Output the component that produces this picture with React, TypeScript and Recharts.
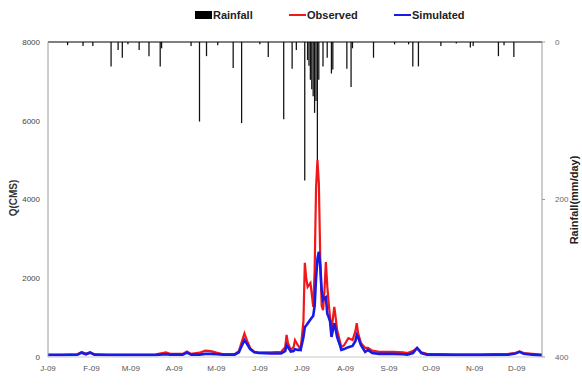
import React from "react";
import {
  ComposedChart,
  Line,
  Bar,
  XAxis,
  YAxis,
  ReferenceLine,
} from "recharts";

// x values are day positions along the year axis
const flowDays = [
  0, 10, 21, 24, 27, 30, 33, 43, 58, 77, 84, 87, 96, 99, 102, 108, 112, 116, 120, 125,
  133, 136, 138, 140, 142, 144, 147, 150, 159, 166, 169, 170, 171, 173, 175, 176, 178, 180,
  182, 183, 184, 185, 187, 189, 190, 191, 192, 193, 194, 195, 196, 197, 198, 199, 200, 201,
  202, 204, 205, 206, 208, 209, 211, 214, 217, 219, 220, 221, 223, 226, 228, 231, 236, 246,
  253, 256, 260, 263, 266, 270, 289, 308, 328, 333, 336, 339, 345, 352,
];
const observed = [
  60, 60, 70, 130, 80, 120, 70, 60, 60, 70, 120, 80, 80, 140, 80, 110, 160, 150, 110, 70,
  70, 150, 380, 600, 400, 230, 130, 120, 120, 130, 250, 560, 350, 180, 250, 430, 300, 200,
  900, 2390, 2000, 1780, 1880, 1270, 2200, 4300, 5000, 4400, 2500, 1300, 1190, 1700, 2410, 1800, 1370, 1000,
  690, 1270, 1000, 690, 400, 250, 300, 480, 430, 650, 860, 600, 355, 230, 230, 160, 130, 130,
  120, 100, 150, 230, 120, 80, 70, 70, 80, 100, 140, 100, 80, 60,
];
const simulated = [
  50, 50, 60, 110, 70, 110, 60, 50, 50, 55, 70, 60, 60, 110, 60, 60, 80, 80, 70, 60,
  60, 120, 280, 430, 320, 200, 120, 100, 90, 90, 150, 300, 250, 140, 150, 200, 180, 180,
  500, 760, 800, 850, 950, 1050, 1300, 2000, 2500, 2670, 2300, 1700, 1450, 1500, 1520, 1100, 1015, 900,
  510, 860, 700, 510, 300, 180, 200, 250, 280, 400, 560, 500, 300, 130, 180, 100, 80, 80,
  70, 60, 100, 230, 100, 60, 50, 50, 60, 90, 130, 80, 60, 40,
];

const rainDays = [
  14, 25, 32, 45, 50, 53, 57, 65, 72, 80, 81, 102, 108, 113, 121, 132, 138, 151, 157, 168,
  174, 177, 183, 185, 186, 187, 188, 189, 190, 191, 192, 193, 196, 199, 202, 203, 213, 216,
  217, 232, 247, 257, 260, 264, 280, 291, 301, 303, 321, 325, 332,
];
const rainfall = [
  4, 5, 5, 31, 10, 20, 3, 10, 18, 31, 8, 5, 101, 18, 4, 33, 103, 3, 19, 98,
  34, 10, 176, 23, 30, 48, 60, 69, 90, 75, 150, 48, 31, 20, 40, 35, 34, 57,
  8, 20, 3, 3, 31, 31, 5, 2, 7, 5, 18, 4, 19,
];

const monthTicks = [0, 31, 59, 90, 120, 151, 181, 212, 243, 273, 304, 334];
const monthLabels = ["J-09", "F-09", "M-09", "A-09", "M-09", "J-09", "J-09", "A-09", "S-09", "O-09", "N-09", "D-09"];
const flowTicks = [0, 2000, 4000, 6000, 8000];
const rainTicks = [0, 200, 400];

type Row = { day: number; obs?: number; sim?: number; rain?: number };

const buildData = (): Row[] => {
  const map = new Map<number, Row>();
  const get = (d: number) => {
    if (!map.has(d)) map.set(d, { day: d });
    return map.get(d)!;
  };
  flowDays.forEach((d, i) => {
    const r = get(d);
    r.obs = observed[i];
    r.sim = simulated[i];
  });
  rainDays.forEach((d, i) => {
    get(d).rain = rainfall[i];
  });
  return Array.from(map.values()).sort((a, b) => a.day - b.day);
};

const data = buildData();
const FONT = "'Liberation Sans', Arial, sans-serif";

export default function App() {
  return (
    <div style={{ position: "absolute", left: 0, top: 0, width: 582, height: 391, background: "#fff", fontFamily: FONT }}>
      <ComposedChart
        width={582}
        height={391}
        data={data}
        margin={{ top: 42, right: 0, bottom: 0, left: 0 }}
      >
        <XAxis
          dataKey="day"
          type="number"
          domain={[0, 352]}
          ticks={monthTicks}
          tickFormatter={(v: number) => monthLabels[monthTicks.indexOf(v)] ?? ""}
          tickLine={false}
          stroke="#c8c8c8"
          height={34}
          tick={{ fontSize: 8, fill: "#555", fontFamily: FONT }}
          allowDataOverflow
        />
        <YAxis
          yAxisId="left"
          domain={[0, 8000]}
          ticks={flowTicks}
          width={48}
          tickLine={false}
          stroke="#9a9a9a"
          tick={{ fontSize: 8, fill: "#444", fontFamily: FONT }}
        />
        <YAxis
          yAxisId="right"
          orientation="right"
          reversed
          domain={[0, 400]}
          ticks={rainTicks}
          width={40}
          tickSize={3}
          tickMargin={10}
          stroke="#9a9a9a"
          tick={{ fontSize: 8, fill: "#666", fontFamily: FONT }}
        />
        <ReferenceLine yAxisId="right" y={0} stroke="#000" strokeWidth={1} />
        <Bar
          yAxisId="right"
          dataKey="rain"
          fill="#111"
          barSize={1.6}
          isAnimationActive={false}
        />
        <Line
          yAxisId="left"
          dataKey="obs"
          stroke="#f01818"
          strokeWidth={2.2}
          dot={false}
          connectNulls
          isAnimationActive={false}
        />
        <Line
          yAxisId="left"
          dataKey="sim"
          stroke="#1a1ae6"
          strokeWidth={2.6}
          dot={false}
          connectNulls
          isAnimationActive={false}
        />
      </ComposedChart>

      {/* Legend */}
      <div style={{ position: "absolute", left: 195, top: 9, height: 12, display: "flex", alignItems: "center", fontSize: 11, fontWeight: "bold", color: "#222" }}>
        <span style={{ display: "inline-block", width: 17, height: 8, background: "#000", marginRight: 1 }} />
        <span>Rainfall</span>
      </div>
      <div style={{ position: "absolute", left: 289, top: 9, height: 12, display: "flex", alignItems: "center", fontSize: 11, fontWeight: "bold", color: "#222" }}>
        <span style={{ display: "inline-block", width: 17, height: 2, background: "#f01818", marginRight: 1 }} />
        <span>Observed</span>
      </div>
      <div style={{ position: "absolute", left: 394, top: 9, height: 12, display: "flex", alignItems: "center", fontSize: 11, fontWeight: "bold", color: "#222" }}>
        <span style={{ display: "inline-block", width: 17, height: 2, background: "#1a1ae6", marginRight: 1 }} />
        <span>Simulated</span>
      </div>

      {/* Axis titles */}
      <div style={{ position: "absolute", left: 13, top: 198, transform: "translate(-50%, -50%) rotate(-90deg)", fontSize: 10, fontWeight: "bold", color: "#333", whiteSpace: "nowrap" }}>
        Q(CMS)
      </div>
      <div style={{ position: "absolute", left: 574, top: 200, transform: "translate(-50%, -50%) rotate(-90deg)", fontSize: 11, fontWeight: "bold", color: "#222", whiteSpace: "nowrap" }}>
        Rainfall(mm/day)
      </div>
    </div>
  );
}
